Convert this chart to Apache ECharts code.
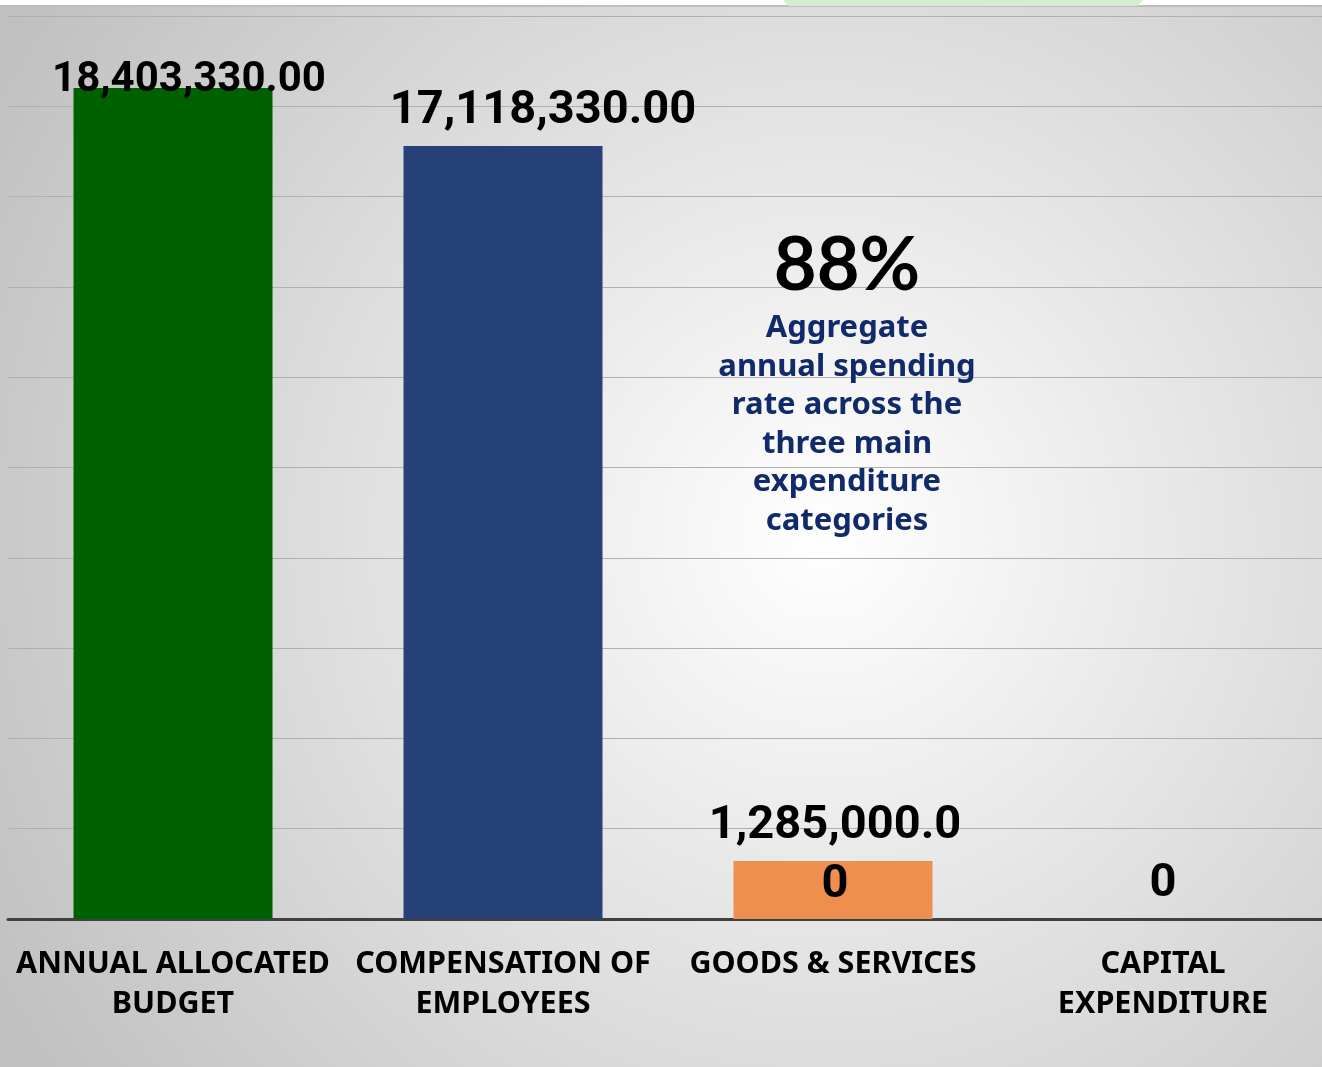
<!DOCTYPE html>
<html>
<head>
<meta charset="utf-8">
<script src="https://cdn.jsdelivr.net/npm/echarts@6/dist/echarts.min.js"></script>
<style>
  html, body { margin: 0; padding: 0; background: #fff; overflow: hidden; }
  #chart { width: 1330px; height: 1067px; }
</style>
</head>
<body>
<div id="chart"></div>
<script>
// data
const categories = ['ANNUAL ALLOCATED\nBUDGET', 'COMPENSATION OF\nEMPLOYEES', 'GOODS & SERVICES', 'CAPITAL\nEXPENDITURE'];
const amounts = [18403330, 17118330, 1285000, 0];
const barColors = ['#006100', '#264078', '#ef8f4f', '#a5a5a5'];
const yMin = 0;
const yMax = 20000000;
const yStep = 2000000;
const headline = '88%';
const noteLines = ['Aggregate', 'annual spending', 'rate across the', 'three main', 'expenditure', 'categories'];

// the plot runs a little past the right edge, so the canvas is a bit wider than the window
const chart = echarts.init(document.getElementById('chart'));

// label placement tweaks per bar (position/style only)
const labelTweaks = [
    { offset: [16, 15], fontSize: 42, lineHeight: 46 },
    { offset: [40, -9], fontSize: 47, lineHeight: 52 },
    { offset: [2, 54], fontSize: 47, lineHeight: 59, width: 258, overflow: 'breakAll' },
    { offset: [0, -5], fontSize: 47, lineHeight: 59 }
];

const fmt = v => v === 0 ? '0' : v.toLocaleString('en-US', { minimumFractionDigits: 2, maximumFractionDigits: 2 });

chart.setOption({
    animation: false,
    graphic: [
        {
            type: 'rect', z: -10, silent: true,
            shape: { x: 0, y: 7, width: 1330, height: 1060 },
            style: {
                fill: new echarts.graphic.RadialGradient(0.62, 0.5, 0.9, [
                    { offset: 0, color: '#ffffff' },
                    { offset: 1, color: '#c0c0c0' }
                ])
            }
        },
        {
            type: 'rect', z: -9, silent: true,
            shape: { x: 0, y: 5, width: 1330, height: 2 },
            style: { fill: '#bdbdbd' }
        },
        {
            type: 'polygon', z: -8, silent: true,
            shape: { points: [[783, 0], [1143, 0], [1137, 6], [789, 6]] },
            style: { fill: '#d5ecd0' }
        }
    ],
    title: {
        text: headline,
        subtext: noteLines.join('\n'),
        left: 842,
        top: 221,
        textAlign: 'center',
        itemGap: 3,
        textStyle: {
            fontFamily: 'Lato', fontWeight: 'bold', fontSize: 74, color: '#000', lineHeight: 80
        },
        subtextStyle: {
            fontFamily: 'Noto Sans', fontWeight: 'bold', fontSize: 31, color: '#112a6a', lineHeight: 38.5, align: 'center'
        }
    },
    grid: { left: 8, top: 16, width: 1320, bottom: 148, containLabel: false },
    xAxis: {
        type: 'category',
        data: categories,
        axisLine: { lineStyle: { color: '#404040', width: 3 } },
        axisTick: { show: false },
        axisLabel: {
            interval: 0, margin: 25,
            fontFamily: 'Noto Sans', fontWeight: 'bold', fontSize: 30.5, lineHeight: 40, color: '#000'
        }
    },
    yAxis: {
        type: 'value',
        min: yMin, max: yMax, interval: yStep,
        axisLabel: { show: false },
        axisLine: { show: false },
        axisTick: { show: false },
        splitLine: { lineStyle: { color: '#b0b0b0', width: 1 } }
    },
    series: [{
        type: 'bar',
        barWidth: 199,
        data: amounts.map((v, i) => ({
            value: v,
            itemStyle: { color: barColors[i] },
            label: labelTweaks[i]
        })),
        label: {
            show: true,
            position: 'top',
            distance: 0,
            formatter: p => fmt(p.value),
            fontFamily: 'Roboto', fontWeight: 'bold', color: '#000',
            align: 'center'
        }
    }]
});
</script>
</body>
</html>
